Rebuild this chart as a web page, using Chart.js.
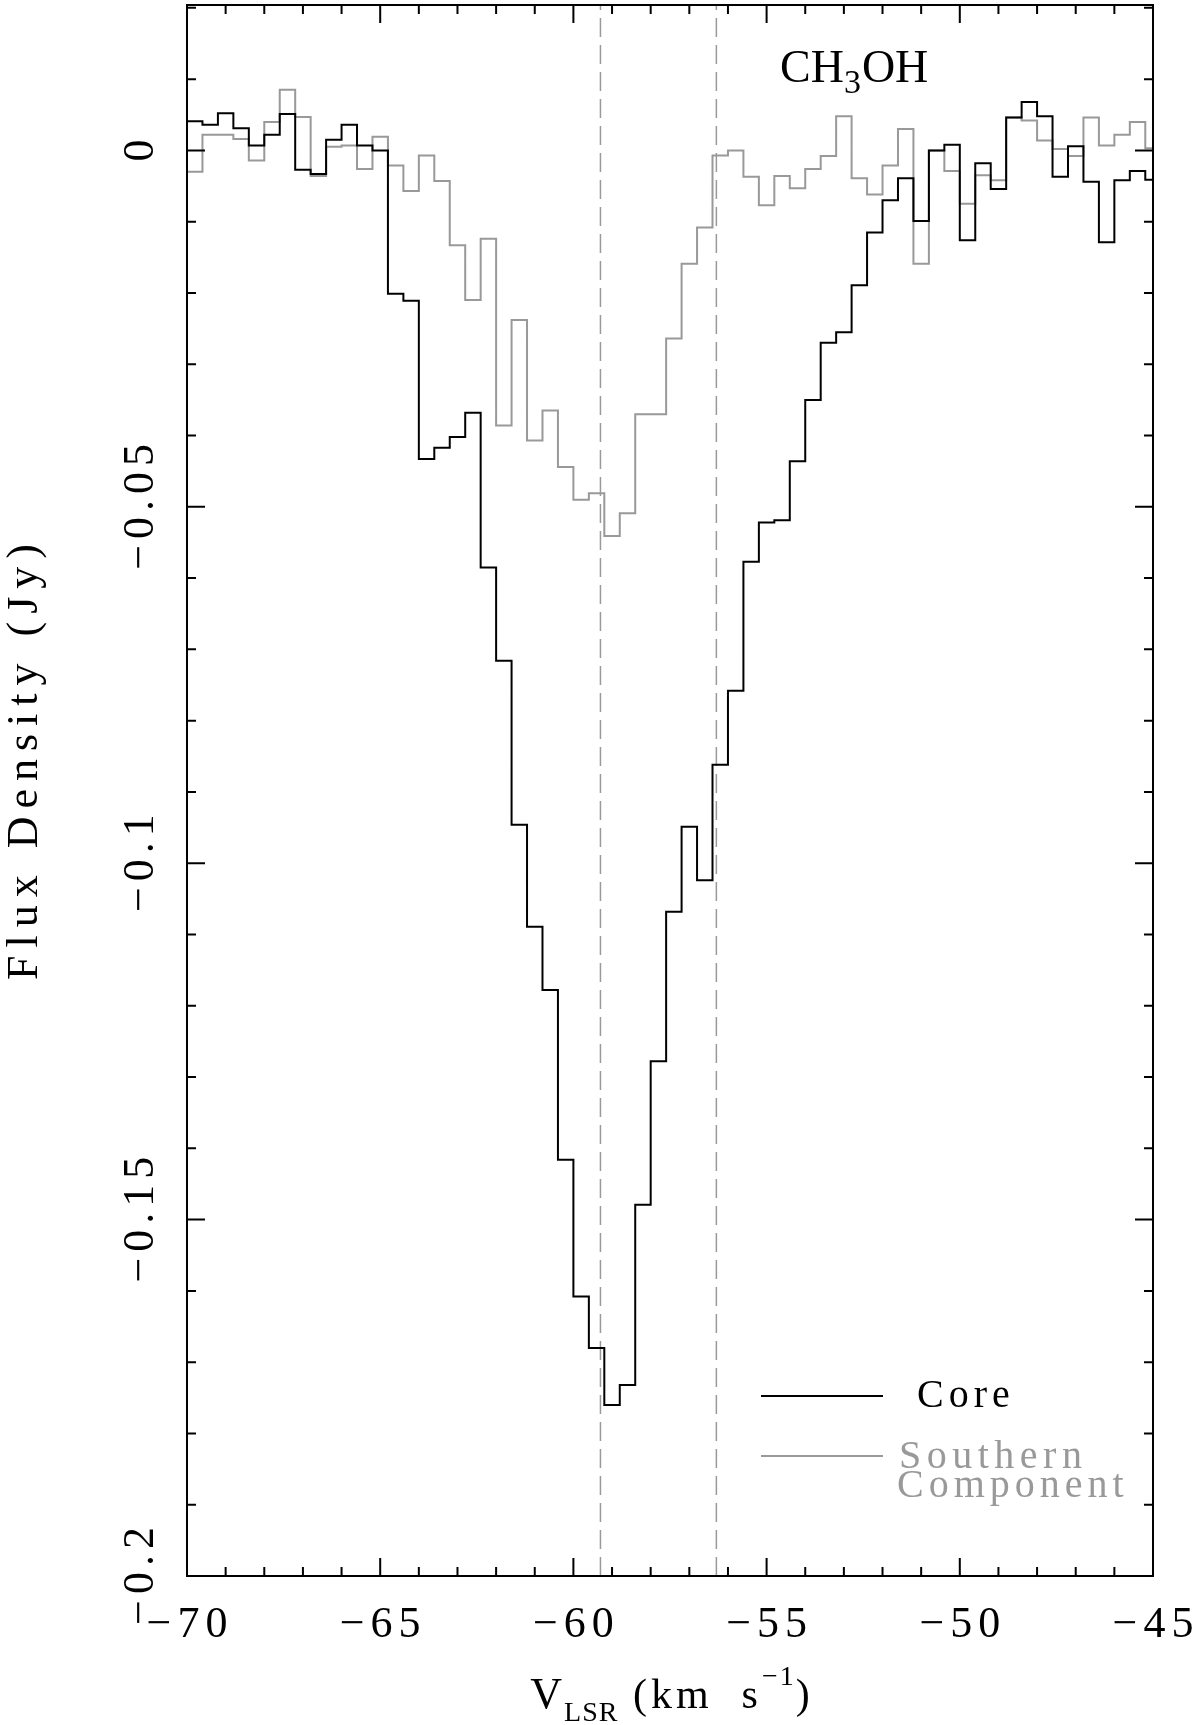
<!DOCTYPE html>
<html>
<head>
<meta charset="utf-8">
<title>CH3OH spectrum</title>
<script src="https://cdn.jsdelivr.net/npm/chart.js@4.4.1/dist/chart.umd.min.js"></script>
<style>
  html, body { margin: 0; padding: 0; background: #fff; }
</style>
</head>
<body>
<canvas id="spectrum" width="1200" height="1725"></canvas>
<script>
// channel centres (km/s), 0.4 km/s wide
const velocity = [
  -70.2, -69.8, -69.4, -69.0, -68.6, -68.2, -67.8, -67.4, -67.0, -66.6,
  -66.2, -65.8, -65.4, -65.0, -64.6, -64.2, -63.8, -63.4, -63.0, -62.6,
  -62.2, -61.8, -61.4, -61.0, -60.6, -60.2, -59.8, -59.4, -59.0, -58.6,
  -58.2, -57.8, -57.4, -57.0, -56.6, -56.2, -55.8, -55.4, -55.0, -54.6,
  -54.2, -53.8, -53.4, -53.0, -52.6, -52.2, -51.8, -51.4, -51.0, -50.6,
  -50.2, -49.8, -49.4, -49.0, -48.6, -48.2, -47.8, -47.4, -47.0, -46.6,
  -46.2, -45.8, -45.4, -45.0
];

// flux density (Jy), core
const coreFlux = [
  0.0057, 0.0041, 0.0036, 0.0052, 0.0031, 0.0007, 0.0022, 0.0051, -0.0027, -0.0033,
  0.0015, 0.0036, 0.0007, 0.0000, -0.0201, -0.0211, -0.0433, -0.0417, -0.0402, -0.0368,
  -0.0585, -0.0716, -0.0946, -0.1089, -0.1178, -0.1416, -0.1608, -0.1680, -0.1760, -0.1732,
  -0.1479, -0.1278, -0.1068, -0.0949, -0.1024, -0.0862, -0.0758, -0.0577, -0.0522, -0.0519,
  -0.0436, -0.0350, -0.0270, -0.0255, -0.0189, -0.0115, -0.0070, -0.0039, -0.0099, 0.0000,
  0.0008, -0.0126, -0.0018, -0.0054, 0.0046, 0.0068, 0.0048, -0.0037, 0.0006, -0.0044,
  -0.0129, -0.0042, -0.0029, -0.0041
];

// flux density (Jy), southern component
const southFlux = [
  -0.0008, -0.0030, 0.0022, 0.0022, 0.0016, -0.0014, 0.0040, 0.0085, 0.0047, -0.0036,
  0.0005, 0.0007, -0.0026, 0.0019, -0.0021, -0.0057, -0.0007, -0.0043, -0.0133, -0.0210,
  -0.0124, -0.0386, -0.0238, -0.0407, -0.0365, -0.0444, -0.0490, -0.0481, -0.0541, -0.0509,
  -0.0370, -0.0370, -0.0264, -0.0159, -0.0108, -0.0007, 0.0000, -0.0037, -0.0077, -0.0036,
  -0.0053, -0.0026, -0.0008, 0.0048, -0.0039, -0.0062, -0.0021, 0.0030, -0.0159, 0.0000,
  -0.0029, -0.0075, -0.0035, -0.0042, 0.0046, 0.0042, 0.0014, 0.0002, -0.0008, 0.0046,
  0.0007, 0.0022, 0.0040, 0.0003
];

// dashed reference velocities
const markerVelocities = [-59.3, -56.3];

// axes
const xMin = -70, xMax = -45;
const yMin = -0.2, yMax = 0.0204;
const xTickValues = [-70, -65, -60, -55, -50, -45];
const xTickLabels = ['\u221270', '\u221265', '\u221260', '\u221255', '\u221250', '\u221245'];
const yTickValues = [0, -0.05, -0.1, -0.15, -0.2];
const yTickLabels = ['0', '\u22120.05', '\u22120.1', '\u22120.15', '\u22120.2'];

const GREY = '#999999';
const FONT = "'Liberation Serif', 'DejaVu Serif', serif";

function pts(ys) {
  return velocity.map((v, i) => ({ x: v, y: ys[i] }));
}

function drawLabel(ctx, text, x, y, size, spacing, align) {
  ctx.font = size + 'px ' + FONT;
  ctx.letterSpacing = spacing + 'px';
  ctx.textAlign = align || 'left';
  ctx.textBaseline = 'alphabetic';
  ctx.fillText(text, x, y);
  return ctx.measureText(text).width;
}

// frame, inward ticks on 4 sides, labels, legend
const framePlugin = {
  id: 'frame',
  afterDraw(chart) {
    const ctx = chart.ctx;
    const a = chart.chartArea;
    const xs = chart.scales.x;
    const ys = chart.scales.y;
    ctx.save();
    ctx.strokeStyle = '#000';
    ctx.lineWidth = 2;
    ctx.strokeRect(a.left, a.top, a.right - a.left, a.bottom - a.top);

    ctx.beginPath();
    for (let v = xMin; v <= xMax; v++) {
      const px = xs.getPixelForValue(v);
      const len = xTickValues.includes(v) ? 18 : 9;
      ctx.moveTo(px, a.bottom); ctx.lineTo(px, a.bottom - len);
      ctx.moveTo(px, a.top); ctx.lineTo(px, a.top + len);
    }
    for (let k = -20; k <= 2; k++) {
      const py = ys.getPixelForValue(k / 100);
      const len = (k % 5 === 0) ? 18 : 9;
      ctx.moveTo(a.left, py); ctx.lineTo(a.left + len, py);
      ctx.moveTo(a.right, py); ctx.lineTo(a.right - len, py);
    }
    ctx.stroke();

    ctx.fillStyle = '#000';
    // x tick labels
    xTickValues.forEach((v, i) => {
      drawLabel(ctx, xTickLabels[i], xs.getPixelForValue(v) + 3, 1637, 44, 6, 'center');
    });
    // y tick labels, rotated
    yTickValues.forEach((v, i) => {
      ctx.save();
      ctx.translate(153, ys.getPixelForValue(v));
      ctx.rotate(-Math.PI / 2);
      drawLabel(ctx, yTickLabels[i], 3, 0, 44, 6, 'center');
      ctx.restore();
    });

    // y title
    ctx.save();
    ctx.translate(37, 762);
    ctx.rotate(-Math.PI / 2);
    drawLabel(ctx, 'Flux Density (Jy)', 4, 0, 44, 8, 'center');
    ctx.restore();

    // x title: V_LSR (km s^-1)
    const parts = [
      { t: 'V', s: 44, dy: 0, ls: 2 },
      { t: 'LSR', s: 28, dy: 13, ls: 1 },
      { t: ' (km  s', s: 42, dy: 0, ls: 4 },
      { t: '\u22121', s: 28, dy: -23, ls: 2 },
      { t: ')', s: 42, dy: 0, ls: 0 }
    ];
    let total = 0;
    parts.forEach(p => {
      ctx.font = p.s + 'px ' + FONT;
      ctx.letterSpacing = p.ls + 'px';
      p.w = ctx.measureText(p.t).width;
      total += p.w;
    });
    let cx = (a.left + a.right) / 2 - total / 2;
    parts.forEach(p => {
      drawLabel(ctx, p.t, cx, 1708 + p.dy, p.s, p.ls, 'left');
      cx += p.w;
    });

    // molecule label
    let mx = 780;
    mx += drawLabel(ctx, 'CH', mx, 82, 46, 0, 'left');
    mx += drawLabel(ctx, '3', mx, 93, 34, 0, 'left');
    drawLabel(ctx, 'OH', mx + 1, 82, 46, 0, 'left');

    // legend
    ctx.lineWidth = 2;
    ctx.strokeStyle = '#000';
    ctx.beginPath(); ctx.moveTo(761, 1396); ctx.lineTo(883, 1396); ctx.stroke();
    drawLabel(ctx, 'Core', 917, 1407, 40, 5, 'left');
    ctx.strokeStyle = GREY;
    ctx.beginPath(); ctx.moveTo(761, 1456); ctx.lineTo(883, 1456); ctx.stroke();
    ctx.fillStyle = GREY;
    drawLabel(ctx, 'Southern', 899, 1468, 40, 5.5, 'left');
    drawLabel(ctx, 'Component', 897, 1497, 40, 5, 'left');
    ctx.letterSpacing = '0px';
    ctx.restore();
  }
};

const datasets = [
  {
    label: 'Core',
    data: pts(coreFlux),
    borderColor: '#000',
    borderWidth: 2,
    stepped: 'middle',
    pointRadius: 0,
    order: 0
  },
  {
    label: 'Southern Component',
    data: pts(southFlux),
    borderColor: GREY,
    borderWidth: 2,
    stepped: 'middle',
    pointRadius: 0,
    order: 1
  }
];
markerVelocities.forEach(v => {
  datasets.push({
    data: [{ x: v, y: yMin }, { x: v, y: yMax }],
    borderColor: GREY,
    borderWidth: 1.5,
    borderDash: [19, 8],
    pointRadius: 0,
    order: 2
  });
});

new Chart(document.getElementById('spectrum').getContext('2d'), {
  type: 'line',
  data: { datasets: datasets },
  options: {
    responsive: false,
    animation: false,
    devicePixelRatio: 1,
    layout: { padding: { left: 0, right: 47, top: 5, bottom: 0 } },
    plugins: {
      legend: { display: false },
      tooltip: { enabled: false }
    },
    scales: {
      x: {
        type: 'linear',
        min: xMin,
        max: xMax,
        grid: { display: false },
        border: { display: false },
        ticks: { display: false },
        afterFit: s => { s.height = 149; }
      },
      y: {
        type: 'linear',
        min: yMin,
        max: yMax,
        grid: { display: false },
        border: { display: false },
        ticks: { display: false },
        afterFit: s => { s.width = 187; }
      }
    }
  },
  plugins: [framePlugin]
});
</script>
</body>
</html>
